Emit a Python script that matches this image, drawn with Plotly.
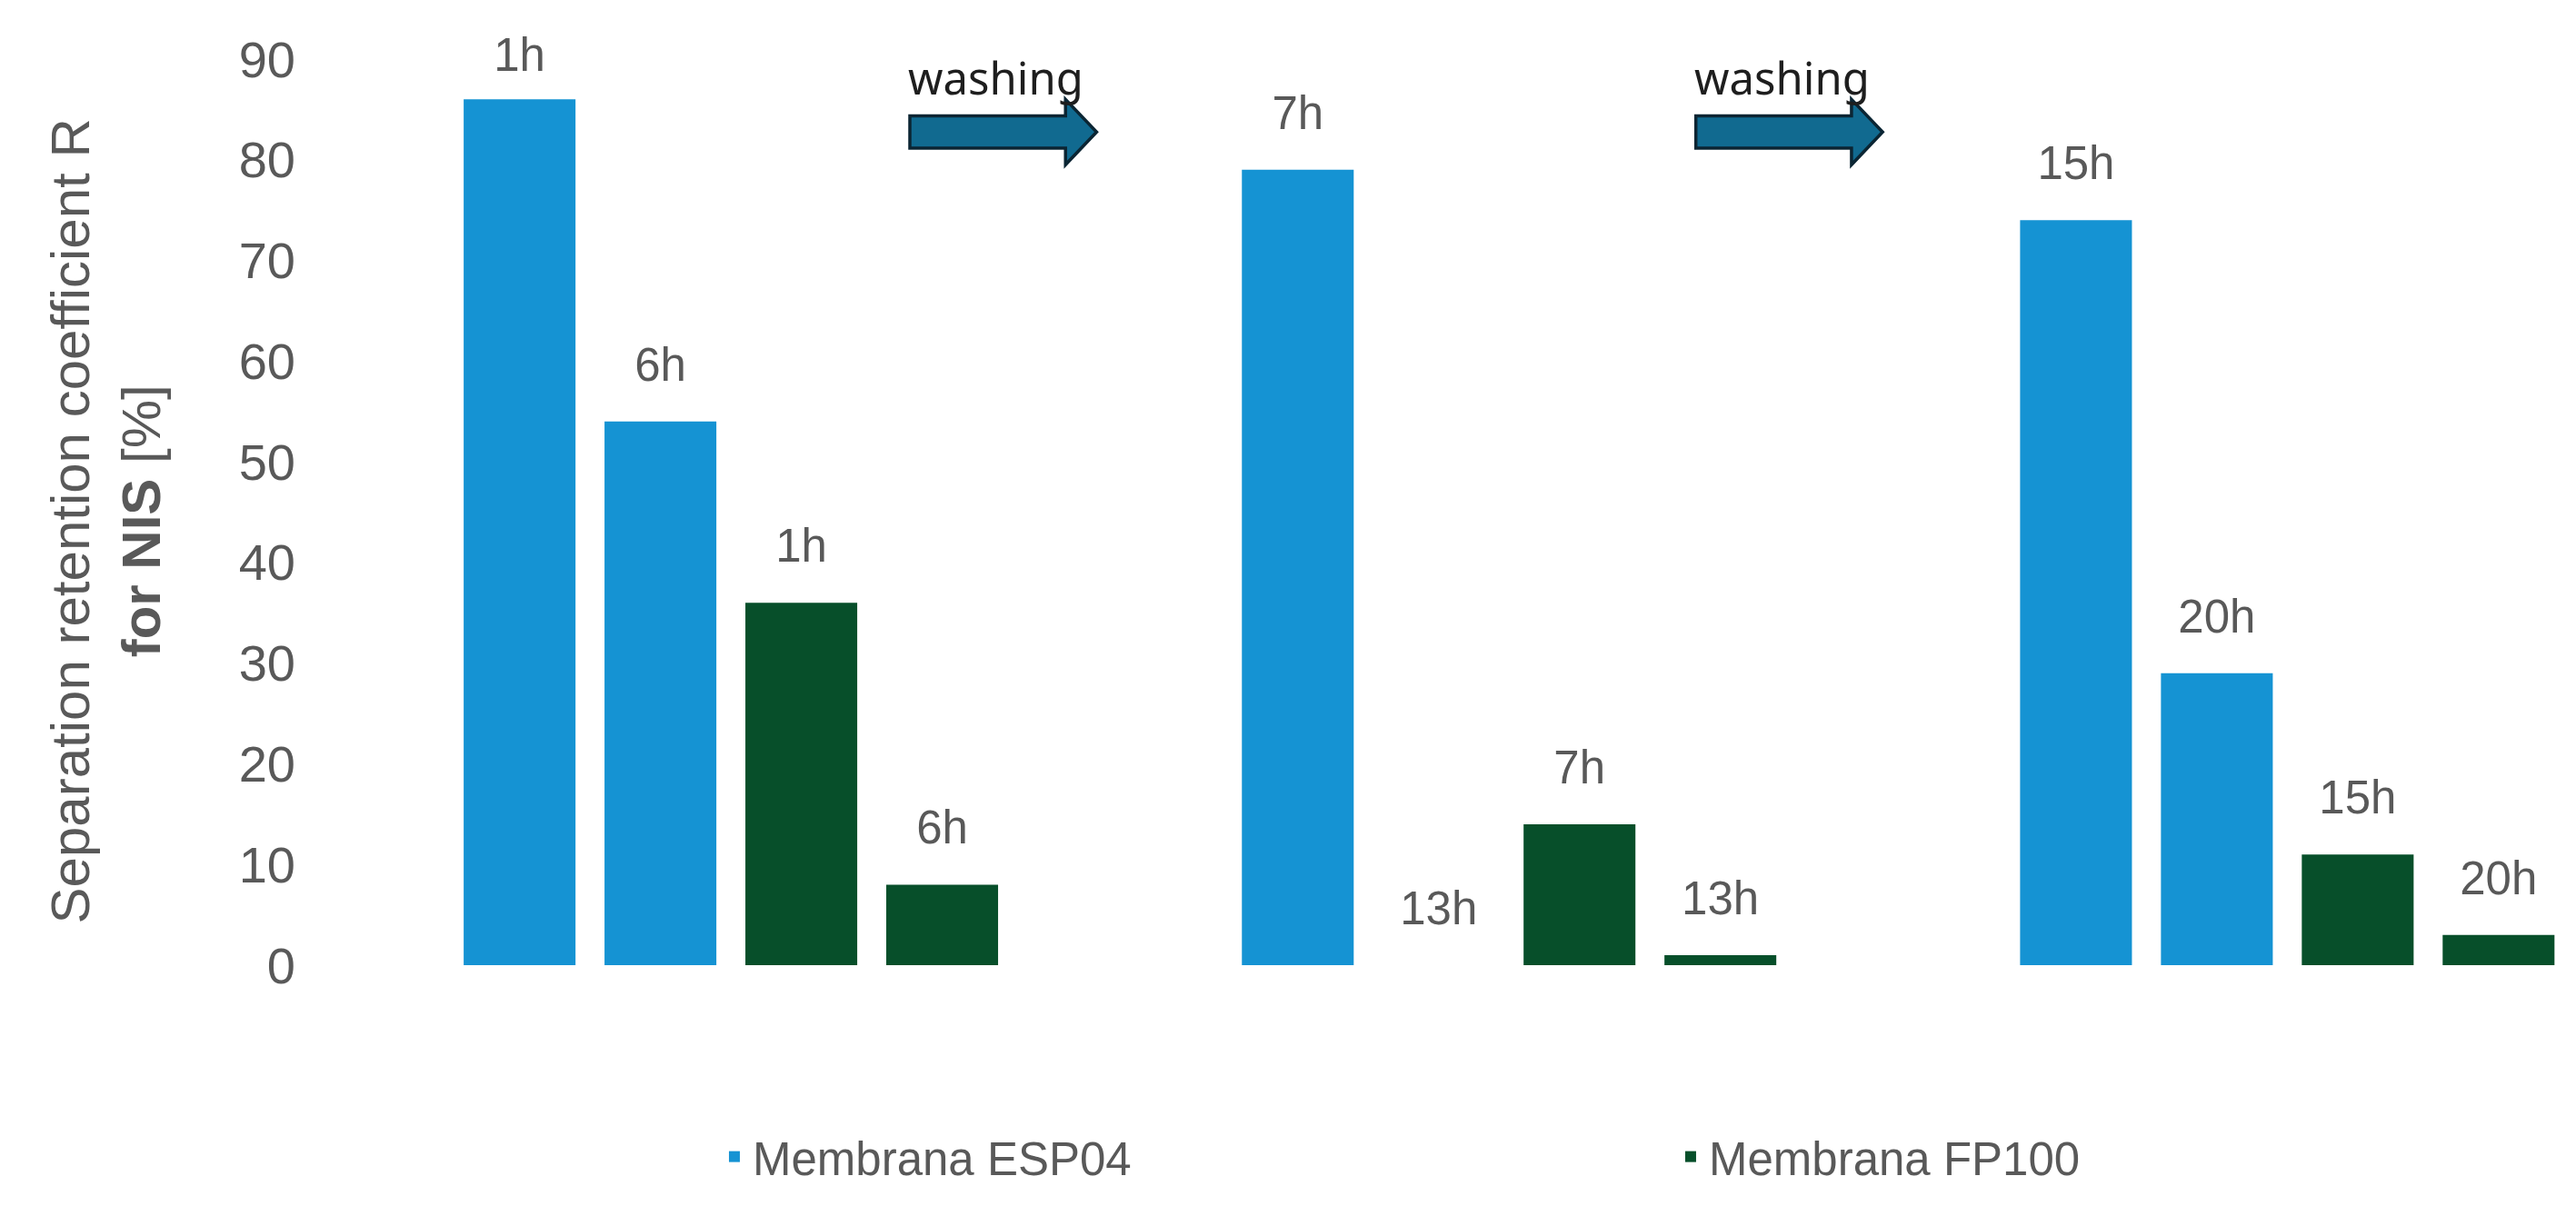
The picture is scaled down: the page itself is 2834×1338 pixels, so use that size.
import plotly.graph_objects as go

# ---------------- data ----------------
groups = ["Cycle 1", "Cycle 2", "Cycle 3"]

esp_first = [86, 79, 74]
esp_first_labels = ["1h", "7h", "15h"]
esp_second = [54, 0, 29]
esp_second_labels = ["6h", "13h", "20h"]

fp_first = [36, 14, 11]
fp_first_labels = ["1h", "7h", "15h"]
fp_second = [8, 1, 3]
fp_second_labels = ["6h", "13h", "20h"]

y_ticks = [0, 10, 20, 30, 40, 50, 60, 70, 80, 90]
legend_names = ["Membrana ESP04", "Membrana FP100"]
arrow_text = "washing"

# ---------------- styles ----------------
ESP_COLOR = "#1593D3"
FP_COLOR = "#074F2A"
GRAY = "#595959"
FONT = "Liberation Sans, Arial, sans-serif"
ARROW_FILL = "#116A90"
ARROW_EDGE = "#0B2533"

BARGAP = 0.276
X_RANGE = [-0.5, 2.371]
Y_RANGE = [0, 90]
LABEL_PAD = 50          # invisible marker size that lifts the labels above the bars
LABEL_PAD_TOP = 28      # labels near the top edge sit a little closer to their bar

series = [
    (esp_first, esp_first_labels, ESP_COLOR, legend_names[0], True, "g1"),
    (esp_second, esp_second_labels, ESP_COLOR, legend_names[0], False, "g2"),
    (fp_first, fp_first_labels, FP_COLOR, legend_names[1], True, "g3"),
    (fp_second, fp_second_labels, FP_COLOR, legend_names[1], False, "g4"),
]

fig = go.Figure()
for vals, labels, color, name, show, grp in series:
    fig.add_trace(go.Bar(
        x=groups, y=vals, name=name, legendgroup=name, showlegend=show,
        offsetgroup=grp, marker=dict(color=color, line=dict(width=0)),
        hovertemplate="%{y}<extra>" + name + "</extra>",
    ))

for vals, labels, color, name, show, grp in series:
    pads = [LABEL_PAD_TOP if v > 84 else LABEL_PAD for v in vals]
    fig.add_trace(go.Scatter(
        x=groups, y=vals, text=labels, mode="markers+text",
        textposition="top center", offsetgroup=grp, showlegend=False,
        marker=dict(size=pads, opacity=0), cliponaxis=False,
        textfont=dict(family=FONT, size=51, color=GRAY), hoverinfo="skip",
    ))

# washing arrows placed between consecutive groups
arrow_start = 0.23
arrow_head = 0.43
arrow_tip = 0.47
y_c, body_h, head_h = 82.75, 1.6, 3.25
shapes = []
annotations = []
for i in range(len(groups) - 1):
    x0 = i + arrow_start + 0.01 * i
    xh = i + arrow_head + 0.01 * i
    xt = i + arrow_tip + 0.01 * i
    path = (f"M{x0},{y_c - body_h} L{xh},{y_c - body_h} L{xh},{y_c - head_h} "
            f"L{xt},{y_c} L{xh},{y_c + head_h} L{xh},{y_c + body_h} "
            f"L{x0},{y_c + body_h} Z")
    shapes.append(dict(type="path", path=path, xref="x", yref="y",
                       fillcolor=ARROW_FILL, line=dict(color=ARROW_EDGE, width=3.5),
                       layer="above"))
    annotations.append(dict(x=x0, y=88.2, xref="x", yref="y", text=arrow_text,
                            showarrow=False, xanchor="left", yanchor="middle",
                            xshift=-4,
                            font=dict(family="Noto Sans, sans-serif", size=49, color="#1E1E1E")))

annotations.append(dict(
    x=-0.1054, y=0.49, xref="paper", yref="paper", textangle=-90,
    text="Separation retention coefficient R<br><b>for NIS</b> [%]",
    showarrow=False, xanchor="center", yanchor="middle", align="center",
    font=dict(family=FONT, size=60, color=GRAY),
))

fig.update_layout(
    width=2834, height=1338,
    margin=dict(l=376, r=0, t=65, b=276, pad=0, autoexpand=False),
    paper_bgcolor="white", plot_bgcolor="white",
    barmode="group", bargap=BARGAP, bargroupgap=0.206,
    scattermode="group", scattergap=BARGAP,
    font=dict(family=FONT, color=GRAY),
    xaxis=dict(range=X_RANGE, showticklabels=False, showgrid=False,
               zeroline=False, showline=False, ticks=""),
    yaxis=dict(range=Y_RANGE, tickvals=y_ticks, showgrid=False, zeroline=False,
               showline=False, ticks="", ticklabelstandoff=50,
               tickfont=dict(family=FONT, size=56, color=GRAY)),
    legend=dict(orientation="h", x=0.1676, xanchor="left", y=-0.1715, yanchor="top",
                font=dict(family=FONT, size=51, color=GRAY),
                entrywidth=1007, entrywidthmode="pixels",
                bgcolor="rgba(0,0,0,0)", traceorder="normal"),
    shapes=shapes, annotations=annotations, showlegend=True,
)

fig.write_html("out.html", config={"displayModeBar": False},
               post_script="document.body.style.margin='0';document.body.style.overflow='hidden';")
